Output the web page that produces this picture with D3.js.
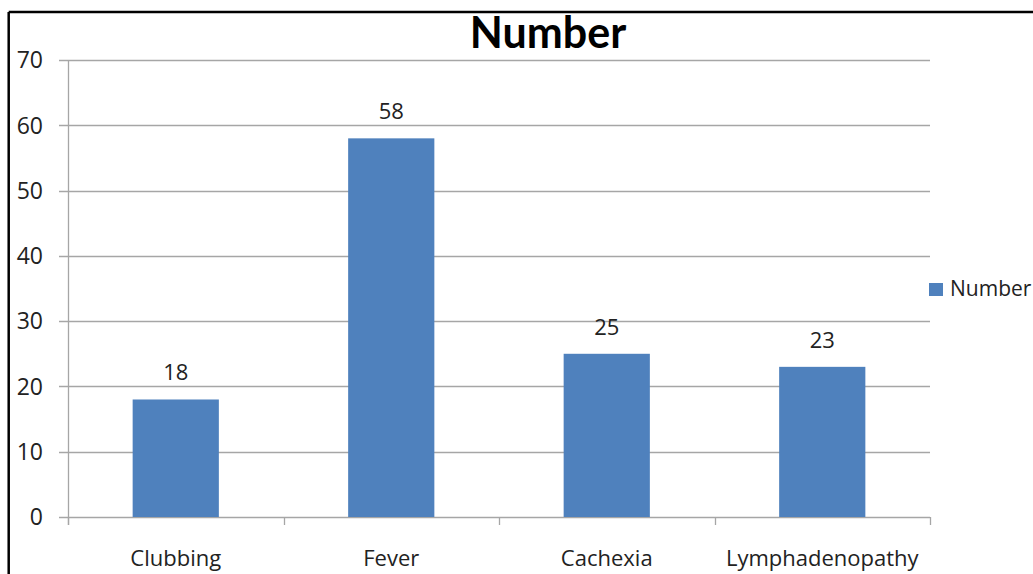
<!DOCTYPE html>
<html>
<head>
<meta charset="utf-8">
<script src="https://cdn.jsdelivr.net/npm/d3@7"></script>
<style>
  html, body { margin: 0; padding: 0; background: #fff; overflow: hidden; }
  svg { display: block; }
</style>
</head>
<body>
<svg id="chart" width="1033" height="574"></svg>
<script>
// Clinical findings and their counts
const categories = ["Clubbing", "Fever", "Cachexia", "Lymphadenopathy"];
const values = [18, 58, 25, 23];
const yTicks = [0, 10, 20, 30, 40, 50, 60, 70];
const seriesName = "Number";
const chartTitle = "Number";

const W = 1033, H = 574;
const plot = { left: 68, right: 930, top: 60, bottom: 517 };
const barColor = "#4F81BD";
const gridColor = "#a6a6a6";
const font = "'Open Sans', sans-serif";
const titleFont = "Lato, 'Open Sans', sans-serif";

const svg = d3.select("#chart");

const x = d3.scaleBand()
  .domain(categories)
  .range([plot.left, plot.right])
  .paddingInner(0.6)
  .paddingOuter(0.3);

const y = d3.scaleLinear()
  .domain([0, 70])
  .range([plot.bottom, plot.top]);

// frame edges
svg.append("line")
  .attr("x1", 8.7).attr("x2", W).attr("y1", 12).attr("y2", 12)
  .attr("stroke", "#000").attr("stroke-width", 2.5);
svg.append("line")
  .attr("x1", 8.7).attr("x2", 8.7).attr("y1", 12).attr("y2", H)
  .attr("stroke", "#000").attr("stroke-width", 2.5);

// horizontal gridlines with left tick marks
svg.append("g")
  .selectAll("line")
  .data(yTicks)
  .join("line")
  .attr("x1", plot.left - 9)
  .attr("x2", plot.right)
  .attr("y1", d => Math.round(y(d)) + 0.5)
  .attr("y2", d => Math.round(y(d)) + 0.5)
  .attr("stroke", gridColor)
  .attr("stroke-width", 1.3);

// y axis line
svg.append("line")
  .attr("x1", plot.left + 0.5).attr("x2", plot.left + 0.5)
  .attr("y1", y(70)).attr("y2", plot.bottom + 8)
  .attr("stroke", gridColor).attr("stroke-width", 1.3);

// category boundary ticks below the x axis
const step = x.step();
const boundaries = d3.range(categories.length + 1).map(i => plot.left + i * step);
svg.append("g")
  .selectAll("line")
  .data(boundaries)
  .join("line")
  .attr("x1", d => Math.round(d) + 0.5)
  .attr("x2", d => Math.round(d) + 0.5)
  .attr("y1", plot.bottom)
  .attr("y2", plot.bottom + 8)
  .attr("stroke", gridColor)
  .attr("stroke-width", 1.3);

// y tick labels
svg.append("g")
  .selectAll("text")
  .data(yTicks)
  .join("text")
  .attr("x", 43)
  .attr("y", d => y(d))
  .attr("dy", "0.36em")
  .attr("text-anchor", "end")
  .attr("font-family", font)
  .attr("font-size", 23)
  .attr("fill", "#222")
  .text(d => d);

// bars
svg.append("g")
  .selectAll("rect")
  .data(values)
  .join("rect")
  .attr("x", (d, i) => x(categories[i]))
  .attr("width", x.bandwidth())
  .attr("y", d => y(d))
  .attr("height", d => plot.bottom - y(d))
  .attr("fill", barColor);

// value labels above bars
svg.append("g")
  .selectAll("text")
  .data(values)
  .join("text")
  .attr("x", (d, i) => x(categories[i]) + x.bandwidth() / 2)
  .attr("y", d => y(d) - 19)
  .attr("text-anchor", "middle")
  .attr("font-family", font)
  .attr("font-size", 22)
  .attr("fill", "#222")
  .text(d => d);

// category labels
svg.append("g")
  .selectAll("text")
  .data(categories)
  .join("text")
  .attr("x", d => x(d) + x.bandwidth() / 2)
  .attr("y", 566)
  .attr("text-anchor", "middle")
  .attr("font-family", font)
  .attr("font-size", 22)
  .attr("fill", "#222")
  .text(d => d);

// title
svg.append("text")
  .attr("x", 548)
  .attr("y", 48)
  .attr("text-anchor", "middle")
  .attr("font-family", titleFont)
  .attr("font-weight", "bold")
  .attr("font-size", 43)
  .attr("fill", "#000")
  .text(chartTitle);

// legend
const legend = svg.append("g");
legend.append("rect")
  .attr("x", 929).attr("y", 283)
  .attr("width", 14).attr("height", 13)
  .attr("fill", barColor);
legend.append("text")
  .attr("x", 950).attr("y", 296)
  .attr("font-family", font)
  .attr("font-size", 21)
  .attr("fill", "#222")
  .text(seriesName);
</script>
</body>
</html>
